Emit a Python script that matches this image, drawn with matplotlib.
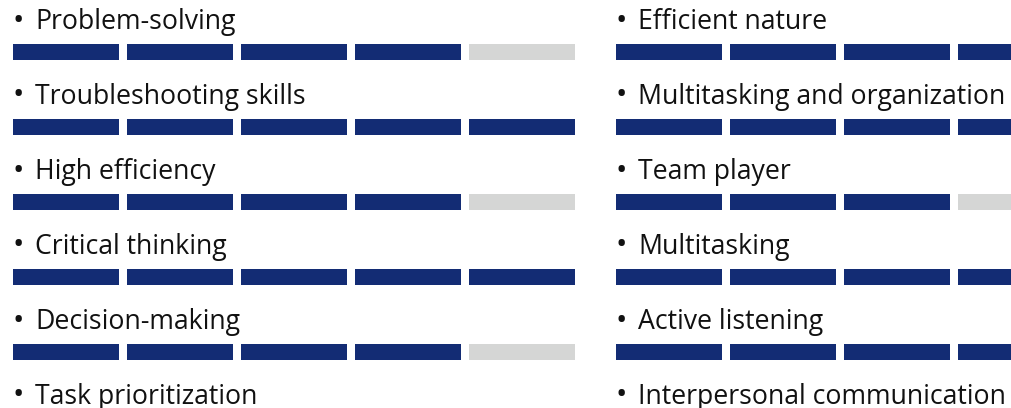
import matplotlib
matplotlib.use("Agg")
from matplotlib import pyplot as plt

# skill data, two columns
left_skills = ["Problem-solving", "Troubleshooting skills", "High efficiency",
               "Critical thinking", "Decision-making", "Task prioritization"]
left_levels = [4, 5, 4, 5, 4, 5]
right_skills = ["Efficient nature", "Multitasking and organization", "Team player",
                "Multitasking", "Active listening", "Interpersonal communication"]
right_levels = [5, 5, 3, 5, 5, 4]
max_level = 5

FILLED = "#132C74"
EMPTY = "#D5D6D5"

plt.rcParams["font.family"] = ["Open Sans", "DejaVu Sans"]

W, H = 1011, 408
fig = plt.figure(figsize=(W / 100, H / 100), dpi=100)
ax = fig.add_axes([0, 0, 1, 1])
ax.set_xlim(0, W)
ax.set_ylim(H, 0)
ax.axis("off")

seg_w, seg_gap = 106, 7.9
row_pitch = 75
bar_y0, bar_h = 52, 16
text_y0 = 29


def draw_column(x0, skills, levels):
    for r, (name, lvl) in enumerate(zip(skills, levels)):
        ty = text_y0 + r * row_pitch
        ax.text(x0 + 5.5, ty + 0.5, "•", fontsize=22, color="#111111",
                ha="center", va="baseline")
        ax.text(x0 + 22, ty, name, fontsize=19.2, color="#111111",
                ha="left", va="baseline")
        lefts = [x0 + i * (seg_w + seg_gap) for i in range(max_level)]
        colors = [FILLED if i < lvl else EMPTY for i in range(max_level)]
        ax.barh([bar_y0 + r * row_pitch] * max_level, [seg_w] * max_level,
                left=lefts, height=bar_h, color=colors, linewidth=0)


draw_column(13, left_skills, left_levels)
draw_column(616, right_skills, right_levels)

fig.savefig("out.png", dpi=100)
